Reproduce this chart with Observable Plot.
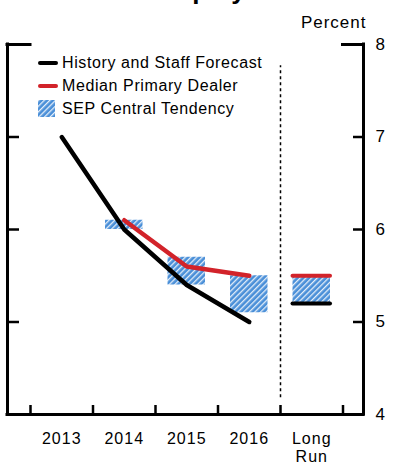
<!DOCTYPE html>
<html>
<head>
<meta charset="utf-8">
<script src="https://cdn.jsdelivr.net/npm/d3@7"></script>
<script src="https://cdn.jsdelivr.net/npm/@observablehq/plot@0.6"></script>
<style>
  body { margin: 0; background: #fff; font-family: "Liberation Sans", Arial, sans-serif; }
  #wrap { position: relative; width: 395px; height: 470px; overflow: hidden; background: #fff; }
  #title { position: relative; height: 6px; overflow: hidden; }
  #title span { position: absolute; top: -25px; left: 120px; font-size: 26px; font-weight: bold; white-space: nowrap; line-height: 30px; }
  #legend { position: absolute; left: 0; top: 0; width: 300px; height: 130px; font-size: 16px; letter-spacing: 0.6px; }
  #legend .sw { position: absolute; left: 38px; width: 20px; height: 4px; border-radius: 2px; }
  #legend .lb { position: absolute; left: 62px; line-height: 20px; white-space: nowrap; color: #000; }
  #legend svg { position: absolute; left: 38px; top: 100px; }
</style>
</head>
<body>
<div id="wrap">
  <div id="title"><span>Unemployment Rate</span></div>
  <div id="chart"></div>
  <div id="legend"></div>
</div>
<script>
// ---- data ----
const categories = ["2013", "2014", "2015", "2016", "Long\nRun"];
const staffForecast = [7.0, 6.0, 5.4, 5.0];        // History and Staff Forecast, 2013-2016
const staffLongRun = 5.2;
const dealerMedian = [null, 6.1, 5.6, 5.5];        // Median Primary Dealer, 2013-2016
const dealerLongRun = 5.5;
const sepLow  = [null, 6.0, 5.4, 5.1, 5.2];        // SEP Central Tendency
const sepHigh = [null, 6.1, 5.7, 5.5, 5.5];
const yTicks = [4, 5, 6, 7, 8];
const dividerSpan = [4.18, 7.77];
const legendItems = ["History and Staff Forecast", "Median Primary Dealer", "SEP Central Tendency"];

// ---- styles ----
const RED = "#d2232a";
const BLUE = "#4a8fd8";
const AX = 3;

const n = categories.length;
const xMin = -0.868, xMax = n - 1 + 0.828;
const idx = d3.range(n);
const bounds = d3.range(n + 1).map(i => i - 0.5);
const hw = 0.3;
const lr = n - 1;

const staffData = staffForecast.map((v, i) => ({i, v}));
const dealerData = dealerMedian.map((v, i) => ({i, v})).filter(d => d.v != null);
const boxes = sepLow.map((lo, i) => ({i, lo, hi: sepHigh[i]})).filter(d => d.lo != null);

const frameW = 395 - 7 - 32;
const frameH = 464 - 38 - 56;

const chart = Plot.plot({
  width: 395,
  height: 464,
  marginLeft: 7,
  marginRight: 32,
  marginTop: 38,
  marginBottom: 56,
  style: {fontFamily: "Liberation Sans, Arial, sans-serif", fontSize: "17px", background: "white", overflow: "visible", letterSpacing: "1px", color: "black"},
  x: {domain: [xMin, xMax], axis: null},
  y: {domain: [4, 8], axis: null},
  marks: [
    Plot.rect(boxes, {x1: d => d.i - hw, x2: d => d.i + hw, y1: "lo", y2: "hi", fill: "url(#sephatch)"}),
    Plot.ruleX([bounds[n - 1]], {y1: dividerSpan[0], y2: dividerSpan[1], stroke: "black", strokeWidth: 1.5, strokeDasharray: "3,3"}),
    Plot.line(staffData, {x: "i", y: "v", stroke: "black", strokeWidth: 4.5, strokeLinecap: "round", strokeLinejoin: "round"}),
    Plot.line(dealerData, {x: "i", y: "v", stroke: RED, strokeWidth: 4.5, strokeLinecap: "round", strokeLinejoin: "round"}),
    Plot.ruleY([dealerLongRun], {x1: lr - hw, x2: lr + hw, stroke: RED, strokeWidth: 4, strokeLinecap: "round"}),
    Plot.ruleY([staffLongRun], {x1: lr - hw, x2: lr + hw, stroke: "black", strokeWidth: 4, strokeLinecap: "round"}),
    // tick marks (inward)
    Plot.gridY(yTicks.slice(0, -1), {stroke: "black", strokeOpacity: 1, strokeWidth: 2.5, insetLeft: frameW - 10}),
    Plot.gridY(yTicks.slice(1, -1), {stroke: "black", strokeOpacity: 1, strokeWidth: 2.5, insetRight: frameW - 12}),
    Plot.gridX(bounds, {stroke: "black", strokeOpacity: 1, strokeWidth: 2.5, insetTop: frameH - 9}),
    // top corner segments
    Plot.ruleY([yTicks[yTicks.length - 1]], {x1: xMin, x2: bounds[0], stroke: "black", strokeWidth: AX, strokeLinecap: "square"}),
    Plot.ruleY([yTicks[yTicks.length - 1]], {x1: bounds[n], x2: xMax, stroke: "black", strokeWidth: AX, strokeLinecap: "square"}),
    // axis lines
    Plot.ruleX([xMin, xMax], {stroke: "black", strokeWidth: AX, strokeLinecap: "square"}),
    Plot.ruleY([yTicks[0]], {stroke: "black", strokeWidth: AX, strokeLinecap: "square"}),
    // labels
    Plot.axisY(yTicks, {anchor: "right", tickSize: 0, tickPadding: 12, tickFormat: d3.format("d"), label: null, fontSize: 17}),
    Plot.axisX(idx, {anchor: "bottom", tickSize: 0, tickPadding: 17, tickFormat: i => categories[i], label: null, fontSize: 16, lineHeight: 1.12}),
    Plot.text(["Percent"], {frameAnchor: "top-right", textAnchor: "end", lineAnchor: "bottom", dx: 3, dy: -17, fontSize: 17})
  ]
});

// hatch pattern
const svgNS = "http://www.w3.org/2000/svg";
const defs = document.createElementNS(svgNS, "defs");
defs.innerHTML = `<pattern id="sephatch" patternUnits="userSpaceOnUse" width="4" height="4" patternTransform="rotate(45)">
  <rect width="4" height="4" fill="${BLUE}"/>
  <rect x="0" y="0" width="1.3" height="4" fill="#ffffff" fill-opacity="0.85"/>
</pattern>`;
chart.insertBefore(defs, chart.firstChild);
document.getElementById("chart").appendChild(chart);

// legend overlay (inside plot area, top-left)
const lg = document.getElementById("legend");
const rows = [
  {type: "line", color: "black", lineTop: 61, textTop: 53},
  {type: "line", color: RED, lineTop: 84, textTop: 76},
  {type: "box", textTop: 98.5}
];
rows.forEach((r, k) => {
  if (r.type === "line") {
    const sw = document.createElement("div");
    sw.className = "sw";
    sw.style.top = r.lineTop + "px";
    sw.style.background = r.color;
    lg.appendChild(sw);
  } else {
    const s = document.createElementNS(svgNS, "svg");
    s.setAttribute("width", 17); s.setAttribute("height", 17);
    s.innerHTML = `<rect width="17" height="17" fill="url(#sephatch)"/>`;
    lg.appendChild(s);
  }
  const t = document.createElement("div");
  t.className = "lb";
  t.style.top = r.textTop + "px";
  t.textContent = legendItems[k];
  lg.appendChild(t);
});
</script>
</body>
</html>
